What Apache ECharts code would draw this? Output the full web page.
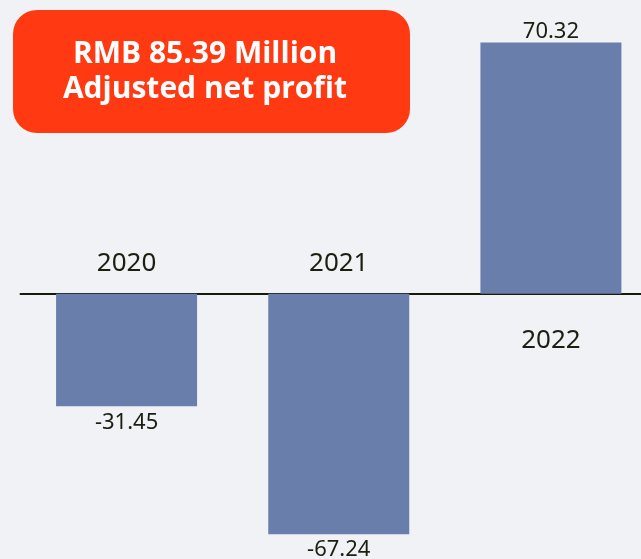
<!DOCTYPE html>
<html>
<head>
<meta charset="utf-8">
<script src="https://cdn.jsdelivr.net/npm/echarts@6/dist/echarts.min.js"></script>
<style>
html,body{margin:0;padding:0;background:#f0f2f6;overflow:hidden;}
#c{width:657px;height:559px;}
</style>
</head>
<body>
<div id="c"></div>
<script>
var years = ['2020', '2021', '2022'];
var profit = [-31.45, -67.24, 70.32];
var headline = 'RMB 85.39 Million';
var subline = 'Adjusted net profit';

var chart = echarts.init(document.getElementById('c'));
var yearLabels = years.map(function (y, i) {
  var neg = profit[i] < 0;
  return {
    value: 0,
    label: {
      show: true,
      formatter: y,
      position: neg ? 'top' : 'bottom',
      distance: neg ? 17 : 34
    }
  };
});
var barData = profit.map(function (v) {
  return { value: v, label: { distance: v < 0 ? 5 : 0 } };
});
chart.setOption({
  backgroundColor: '#f0f2f6',
  animation: false,
  grid: { left: 20.5, top: 8, bottom: 15, right: 0 },
  xAxis: {
    type: 'category',
    data: years,
    axisLine: { show: true, onZero: true, lineStyle: { color: '#141a0c', width: 2 } },
    axisTick: { show: false },
    axisLabel: { show: false },
    splitLine: { show: false }
  },
  yAxis: {
    type: 'value', min: -70, max: 80,
    show: false, splitLine: { show: false }
  },
  series: [
    {
      type: 'bar',
      data: barData,
      barWidth: 141,
      itemStyle: { color: '#6a7eab' },
      label: {
        show: true,
        position: 'outside',
        color: '#1a1f10',
        fontFamily: 'Noto Sans',
        fontSize: 22,
        formatter: function (p) { return p.value.toFixed(2); }
      }
    },
    {
      type: 'scatter',
      data: yearLabels,
      symbolSize: 0,
      itemStyle: { opacity: 1 },
      label: {
        color: '#1a1f10',
        fontFamily: 'Noto Sans',
        fontSize: 26
      },
      z: 5
    }
  ],
  graphic: [
    {
      type: 'rect',
      shape: { x: 13, y: 10, width: 397, height: 123, r: 24 },
      style: { fill: '#ff3a12' },
      z: 10
    },
    {
      type: 'text',
      style: {
        x: 205, y: 72,
        text: headline + '\n' + subline,
        fill: '#ffffff',
        font: 'bold 30px "Open Sans"',
        lineHeight: 35,
        align: 'center',
        verticalAlign: 'middle'
      },
      z: 11
    }
  ]
});
</script>
</body>
</html>
